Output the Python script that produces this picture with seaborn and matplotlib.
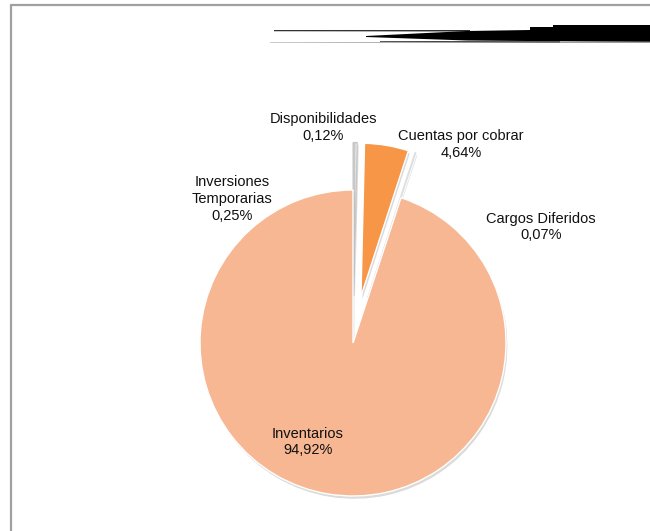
import matplotlib
matplotlib.use("Agg")
import matplotlib.pyplot as plt
import matplotlib.patheffects as pe
from matplotlib.patches import Polygon
from matplotlib.lines import Line2D
import seaborn as sns

sns.set_theme(style="white")
plt.rcParams['font.family'] = ['Liberation Sans', 'DejaVu Sans']

# ---- data ----
categories = ["Disponibilidades", "Inversiones\nTemporarias", "Cuentas por cobrar",
              "Cargos Diferidos", "Inventarios"]
values = [0.12, 0.25, 4.64, 0.07, 94.92]
value_labels = ["0,12%", "0,25%", "4,64%", "0,07%", "94,92%"]
colors = ["#FAFAFA", "#F4F4F4", "#F79646", "#FFFFFF", "#F8B793"]
edge_colors = ["#C8C8C8", "#C8C8C8", "#FFFFFF", "#E0E0E0", "#FFFFFF"]
explode = [0.31, 0.31, 0.31, 0.31, 0.0]
# label anchor positions (in pie-radius units)
label_pos = [(-0.196, 1.41), (-0.79, 0.94), (0.706, 1.295), (1.229, 0.758), (-0.294, -0.647)]

W, H = 650, 531
fig = plt.figure(figsize=(W / 100, H / 100), dpi=100)
fig.patch.set_facecolor("white")

# pie axes: center (353, 343) px, radius 153 px
R = 153.0
cx, cy = 353.0, 343.0
half = 1.5
size = 2 * half * R
ax = fig.add_axes([(cx - size / 2) / W, (H - cy - size / 2) / H, size / W, size / H])

wedges, _ = ax.pie(values, colors=colors, explode=explode, startangle=90,
                   counterclock=False, radius=1.0,
                   wedgeprops=dict(linewidth=1.0))
ax.set_xlim(-half, half)
ax.set_ylim(-half, half)
ax.set_aspect("equal")
ax.axis("off")
for w, ec in zip(wedges, edge_colors):
    w.set_edgecolor(ec)
    w.set_path_effects([pe.SimplePatchShadow(offset=(1, -2), shadow_rgbFace="#888888", alpha=0.3),
                        pe.Normal()])

for cat, vl, (x, y) in zip(categories, value_labels, label_pos):
    ax.text(x, y, cat + "\n" + vl, ha="center", va="center", fontsize=10.5,
            color="#111111", linespacing=1.25)

# ---- frame lines (top and left) ----
def px(x, y):
    return (x / W, 1 - y / H)

fig.add_artist(Line2D([10.5 / W, 1], [1 - 4.5 / H, 1 - 4.5 / H], color="#A0A0A0",
                      linewidth=1.6, transform=fig.transFigure))
fig.add_artist(Line2D([10.5 / W, 10.5 / W], [0, 1 - 4.5 / H], color="#A0A0A0",
                      linewidth=1.6, transform=fig.transFigure))

# ---- decorative black banner at the top ----
shapes = [
    ([(274, 30.2), (470, 30.2), (470, 31.4), (274, 31.2)], "black"),
    ([(366, 36), (467, 31), (530, 30), (530, 27), (553, 27), (553, 25), (650, 25),
      (650, 42), (467, 40.5), (366, 37)], "black"),
    ([(270, 42.3), (650, 41.6), (650, 43), (270, 42.8)], "#9a9a9a"),
    ([(380, 41), (560, 41.3), (560, 42.4), (380, 41.8)], "#333333"),
]
for pts, col in shapes:
    fig.add_artist(Polygon([px(x, y) for x, y in pts], closed=True, facecolor=col,
                           edgecolor="none", transform=fig.transFigure))

fig.savefig("out.png", dpi=100, facecolor="white")
